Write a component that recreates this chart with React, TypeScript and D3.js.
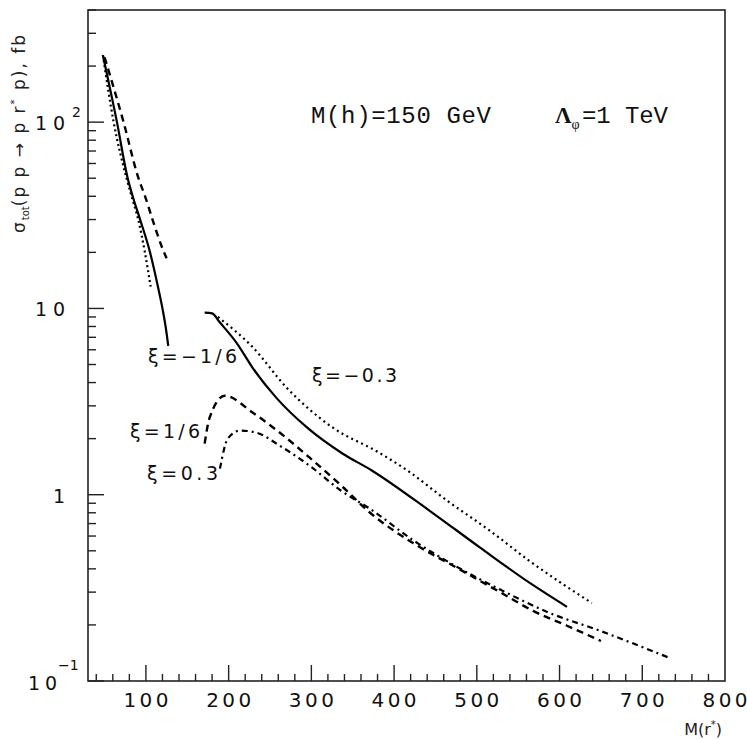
import React, { useEffect, useRef } from 'react';
import * as d3 from 'd3';

// curve values: M(r*) in GeV, sigma in fb
const lowSolidX = [48, 65, 78, 84, 93, 105, 114.5, 120, 124, 127];
const lowSolidY = [229, 100, 50, 40, 30, 20, 13.1, 10, 7.9, 6.3];
const lowDashX = [50, 73, 91, 99, 108, 120, 125];
const lowDashY = [223, 100, 50, 40, 30, 21, 18.6];
const lowDotX = [48, 61, 76.6, 82.7, 90.7, 98.8, 105.7];
const lowDotY = [229, 100, 50, 40, 30, 20, 13.1];

const solidX = [171, 180, 189.5, 210, 229, 258, 295, 338, 373, 443, 504, 564, 609];
const solidY = [9.5, 9.4, 8.4, 6.5, 4.8, 3.3, 2.29, 1.66, 1.35, 0.82, 0.52, 0.336, 0.25];
const dotX = [187, 229, 270, 326, 380, 416, 464, 516, 564, 639];
const dotY = [9.0, 6.2, 3.76, 2.29, 1.7, 1.35, 0.93, 0.64, 0.44, 0.262];
const dashX = [171, 177, 195.5, 229, 262, 298, 338, 371, 423, 476, 528, 568, 609, 650];
const dashY = [1.88, 2.59, 3.4, 2.76, 2.15, 1.58, 1.1, 0.8, 0.55, 0.405, 0.3, 0.238, 0.198, 0.164];
const dashDotX = [189.5, 199, 214, 234, 262, 298, 336, 371, 423, 476, 528, 588, 649, 697, 733];
const dashDotY = [1.38, 2.0, 2.21, 2.15, 1.83, 1.43, 1.05, 0.84, 0.57, 0.41, 0.31, 0.232, 0.186, 0.154, 0.133];

const xTickLabels = [100, 200, 300, 400, 500, 600, 700, 800];

const zip = (xs: number[], ys: number[]) => xs.map((v, i) => [v, ys[i]] as [number, number]);

const App = () => {
  const ref = useRef<HTMLDivElement>(null);

  useEffect(() => {
    d3.select(ref.current).select('svg').remove();

    const svg = d3
      .select(ref.current)
      .append('svg')
      .attr('width', 747)
      .attr('height', 740)
      .style('position', 'absolute')
      .style('left', '0px')
      .style('top', '0px')
      .style('background', '#fff');

    const left = 88, right = 725, top = 10, bottom = 681;

    const x = d3.scaleLinear().domain([30, 800]).range([left, right]);
    const y = d3.scaleLog().domain([0.1, 400]).range([bottom, top]);

    const sans = 'DejaVu Sans, sans-serif';
    const mono = 'Liberation Mono, Courier New, monospace';

    // frame
    svg.append('rect')
      .attr('x', left).attr('y', top)
      .attr('width', right - left).attr('height', bottom - top)
      .attr('fill', 'none').attr('stroke', '#222').attr('stroke-width', 1.6);

    // y ticks (inside)
    const yTicks: number[] = [];
    [0.1, 1, 10, 100].forEach(d => {
      for (let k = 1; k <= 9; k++) {
        const v = d * k;
        if (v >= 0.1 && v <= 400) yTicks.push(v);
      }
    });
    svg.append('g').selectAll('line')
      .data(yTicks)
      .enter().append('line')
      .attr('x1', left)
      .attr('x2', d => left + (Math.abs(Math.log10(d) - Math.round(Math.log10(d))) < 1e-9 ? 16 : 8))
      .attr('y1', d => y(d)).attr('y2', d => y(d))
      .attr('stroke', '#222').attr('stroke-width', 1.4);

    // x ticks (inside)
    const xTicks = d3.range(40, 800, 20);
    svg.append('g').selectAll('line')
      .data(xTicks)
      .enter().append('line')
      .attr('x1', d => x(d)).attr('x2', d => x(d))
      .attr('y1', bottom)
      .attr('y2', d => bottom - (d % 100 === 0 ? 16 : 7))
      .attr('stroke', '#222').attr('stroke-width', 1.4);

    svg.append('g').selectAll('text')
      .data(xTickLabels)
      .enter().append('text')
      .attr('x', d => x(d))
      .attr('y', 707)
      .attr('text-anchor', 'middle')
      .attr('font-family', sans).attr('font-size', 20)
      .attr('textLength', 45).attr('lengthAdjust', 'spacing')
      .attr('fill', '#111')
      .text(d => d);

    // y labels
    const yLab = svg.append('g').attr('font-family', sans).attr('fill', '#111');
    const t2 = yLab.append('text').attr('x', 35).attr('y', y(100) + 8).attr('font-size', 19);
    t2.append('tspan').attr('textLength', 30).attr('lengthAdjust', 'spacing').text('10');
    t2.append('tspan').attr('x', 72).attr('dy', -13).attr('font-size', 14).text('2');
    yLab.append('text').attr('x', 35).attr('y', y(10) + 8).attr('font-size', 19)
      .attr('textLength', 30).attr('lengthAdjust', 'spacing').text('10');
    yLab.append('text').attr('x', 65).attr('y', y(1) + 8).attr('font-size', 19)
      .attr('text-anchor', 'end').text('1');
    const tm = yLab.append('text').attr('x', 28).attr('y', y(0.1) + 9).attr('font-size', 19);
    tm.append('tspan').attr('textLength', 29).attr('lengthAdjust', 'spacing').text('10');
    tm.append('tspan').attr('x', 58).attr('dy', -20).attr('font-size', 14).text('\u22121');

    // axis titles
    const yt = svg.append('text')
      .attr('transform', 'translate(25,233) rotate(-90)')
      .attr('font-family', sans).attr('font-size', 17).attr('fill', '#222')
      .attr('letter-spacing', 2);
    yt.append('tspan').text('\u03c3');
    yt.append('tspan').attr('font-size', 10).attr('letter-spacing', 0).attr('dy', 4).text('tot');
    yt.append('tspan').attr('dy', -4).text('(p p \u2192 p r');
    yt.append('tspan').attr('font-size', 10).attr('dy', -7).text('*');
    yt.append('tspan').attr('dy', 7).text(' p), fb');

    const xt = svg.append('text')
      .attr('x', 722).attr('y', 735).attr('text-anchor', 'end')
      .attr('font-family', sans).attr('font-size', 16).attr('fill', '#222');
    xt.append('tspan').text('M(r');
    xt.append('tspan').attr('font-size', 10).attr('dy', -7).text('*');
    xt.append('tspan').attr('dy', 7).text(')');

    // curves
    const line = d3.line<[number, number]>()
      .x(d => x(d[0]))
      .y(d => y(d[1]))
      .curve(d3.curveMonotoneX);

    const curves = [
      { pts: zip(lowSolidX, lowSolidY), dash: null, w: 2.2 },
      { pts: zip(lowDashX, lowDashY), dash: '7,5', w: 2.4 },
      { pts: zip(lowDotX, lowDotY), dash: '2,3', w: 2.2 },
      { pts: zip(solidX, solidY), dash: null, w: 2.2 },
      { pts: zip(dotX, dotY), dash: '2,3.5', w: 2.2 },
      { pts: zip(dashX, dashY), dash: '7,5', w: 2.4 },
      { pts: zip(dashDotX, dashDotY), dash: '6,4,2,4', w: 2.2 },
    ];

    svg.append('g').selectAll('path')
      .data(curves)
      .enter().append('path')
      .attr('d', d => line(d.pts))
      .attr('fill', 'none')
      .attr('stroke', '#000')
      .attr('stroke-width', d => d.w)
      .attr('stroke-dasharray', d => d.dash);

    // curve labels
    const labels = [
      { t: '\u03be=\u22121/6', x: 148, y: 363, w: 89 },
      { t: '\u03be=\u22120.3', x: 312, y: 382, w: 85 },
      { t: '\u03be=1/6', x: 130, y: 438, w: 70 },
      { t: '\u03be=0.3', x: 147, y: 480, w: 71 },
    ];
    svg.append('g').selectAll('text')
      .data(labels)
      .enter().append('text')
      .attr('x', d => d.x).attr('y', d => d.y)
      .attr('font-family', sans).attr('font-size', 19).attr('fill', '#111')
      .attr('textLength', d => d.w).attr('lengthAdjust', 'spacing')
      .text(d => d.t);

    // parameter annotation
    svg.append('text')
      .attr('x', 311).attr('y', 123)
      .attr('font-family', mono).attr('font-size', 24).attr('fill', '#111')
      .attr('textLength', 180).attr('lengthAdjust', 'spacing')
      .text('M(h)=150 GeV');
    const lam = svg.append('text').attr('x', 555).attr('y', 123).attr('fill', '#111');
    lam.append('tspan').attr('font-family', 'Liberation Serif, serif').attr('font-weight', 'bold')
      .attr('font-size', 23).text('\u039b');
    lam.append('tspan').attr('font-family', 'Liberation Serif, serif').attr('font-size', 14)
      .attr('dy', 6).text('\u03c6');
    lam.append('tspan').attr('x', 582).attr('dy', -6).attr('font-family', mono).attr('font-size', 24)
      .attr('textLength', 86).attr('lengthAdjust', 'spacing').text('=1 TeV');
  }, []);

  return <div ref={ref}></div>;
};

export default App;
